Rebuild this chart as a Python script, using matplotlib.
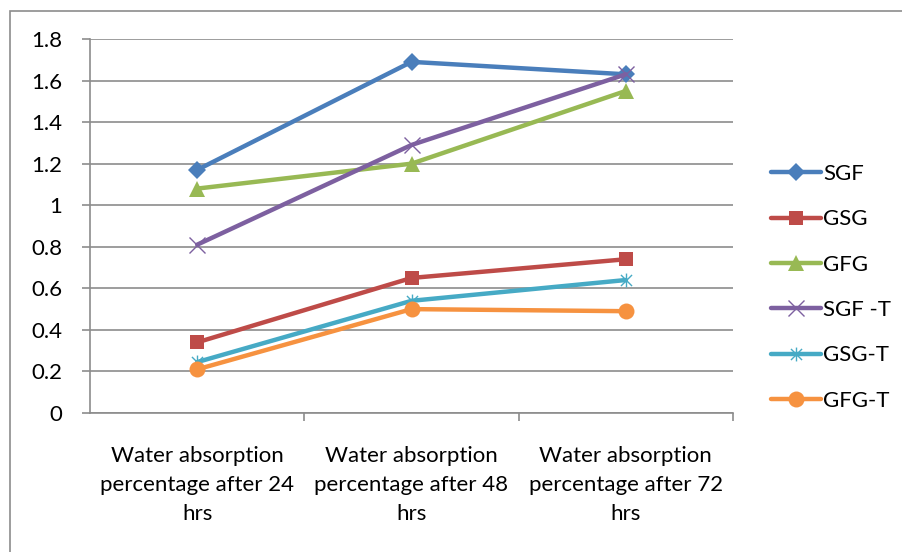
import numpy as np
import matplotlib.pyplot as plt
from matplotlib.path import Path
import matplotlib.patches as patches

plt.rcParams['font.family'] = ['Lato', 'DejaVu Sans']

categories = ["Water absorption\npercentage after 24\nhrs",
              "Water absorption\npercentage after 48\nhrs",
              "Water absorption\npercentage after 72\nhrs"]
series_names = ["SGF", "GSG", "GFG", "SGF -T", "GSG-T", "GFG-T"]
sgf = [1.17, 1.69, 1.63]
gsg = [0.34, 0.65, 0.74]
gfg = [1.08, 1.20, 1.55]
sgf_t = [0.81, 1.29, 1.63]
gsg_t = [0.245, 0.54, 0.64]
gfg_t = [0.21, 0.50, 0.49]
yticks = [0, 0.2, 0.4, 0.6, 0.8, 1, 1.2, 1.4, 1.6, 1.8]

# excel style "star": an x with a vertical bar through it
star = Path([(-1, -1), (1, 1), (-1, 1), (1, -1), (0, -1.25), (0, 1.25)],
            [Path.MOVETO, Path.LINETO] * 3)

styles = [
    ("#4A7EBB", "D", 9.5, None),
    ("#BE4B48", "s", 10.5, None),
    ("#98B954", "^", 11.5, None),
    ("#7D60A0", "x", 11, 1.0),
    ("#46AAC5", star, 10, 1.0),
    ("#F69240", "o", 11.5, None),
]

fig = plt.figure(figsize=(9.02, 5.52), dpi=100)
ax = fig.add_axes([90 / 902, 1 - 413 / 552, (733 - 90) / 902, (413 - 39) / 552])

# outer chart border (runs off the right and bottom edges)
fig.patches.append(patches.Rectangle((10 / 902, -0.1), 1.0, 1 - 11 / 552 + 0.1,
                                     transform=fig.transFigure, fill=False,
                                     edgecolor="#8C8C8C", linewidth=1.2))

x = np.arange(len(categories))
for name, vals, (col, mk, ms, mew) in zip(series_names,
                                          [sgf, gsg, gfg, sgf_t, gsg_t, gfg_t],
                                          styles):
    ax.plot(x, vals, color=col, linewidth=3.2, marker=mk, markersize=ms,
            markerfacecolor=col, markeredgecolor=col,
            markeredgewidth=mew if mew is not None else 0,
            label=name, solid_capstyle="round")

ax.set_xlim(-0.5, 2.5)
ax.set_ylim(0, 1.8)
ax.set_yticks(yticks)
ax.set_yticklabels([f"{v:g}" for v in yticks], fontsize=16)
ax.yaxis.grid(True, color="#8C8C8C", linewidth=1.2)
ax.set_axisbelow(True)

ax.set_xticks(x)
ax.set_xticklabels(categories, fontsize=16, linespacing=1.55)
ax.set_xticks([0.5, 1.5, 2.5], minor=True)
ax.tick_params(axis="x", which="major", length=0, pad=24)
ax.tick_params(axis="x", which="minor", length=6, color="#8C8C8C", width=1.2)
ax.tick_params(axis="y", length=6, color="#8C8C8C", width=1.2, pad=14)

for side in ["top", "right"]:
    ax.spines[side].set_visible(False)
for side in ["left", "bottom"]:
    ax.spines[side].set_color("#8C8C8C")
    ax.spines[side].set_linewidth(1.2)

leg = fig.legend(loc="upper left", bbox_to_anchor=(751 / 902, 1 - 144 / 552),
                 frameon=False, fontsize=16, labelspacing=1.14,
                 handlelength=2.25, handletextpad=0.1)

fig.savefig("out.png", dpi=100)
